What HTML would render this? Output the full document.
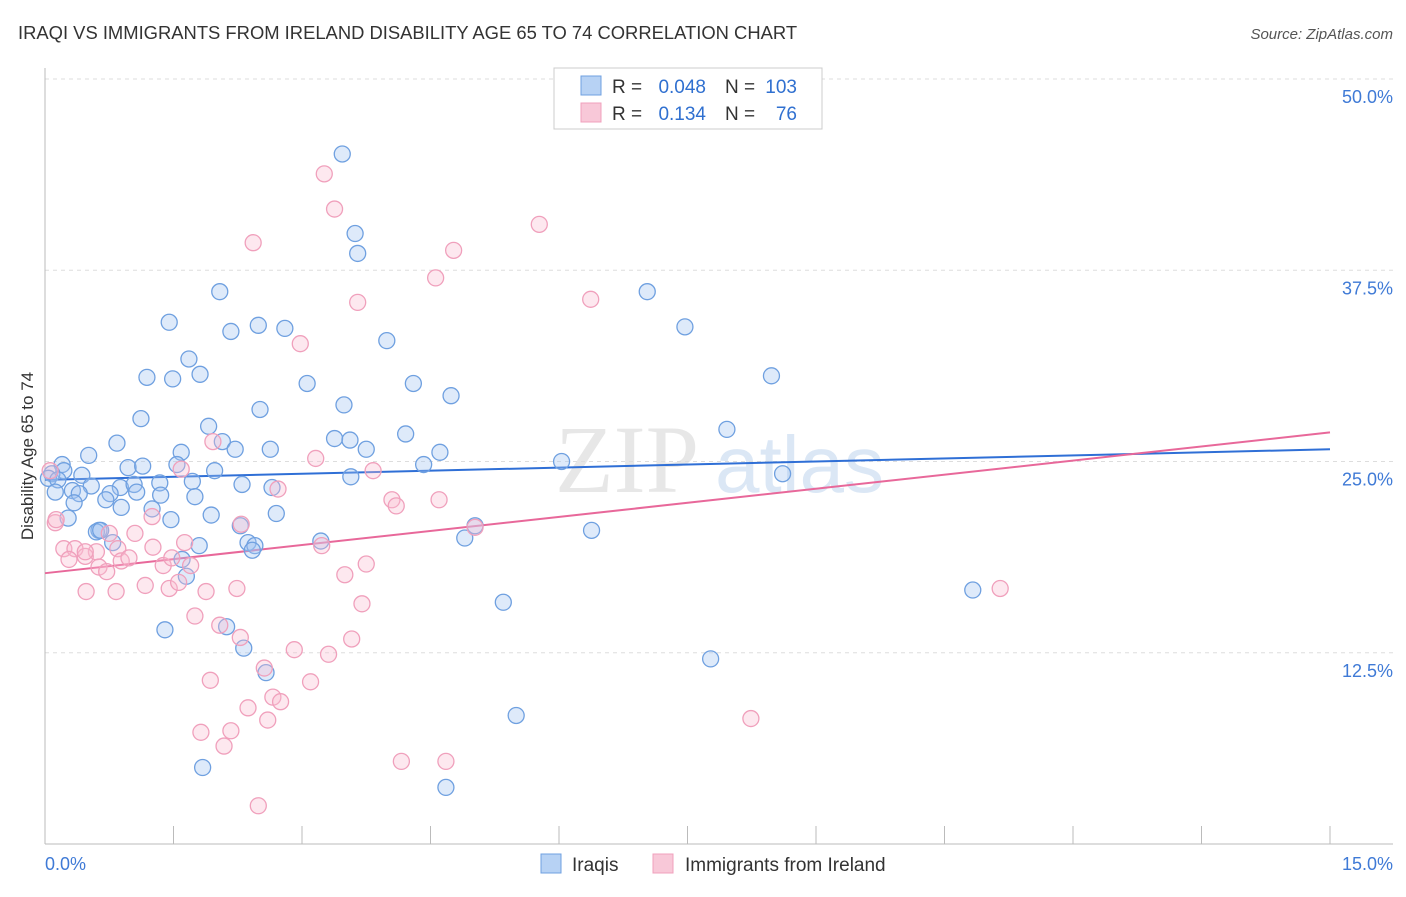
<!DOCTYPE html>
<html><head><meta charset="utf-8"><style>
body{margin:0;background:#fff;font-family:"Liberation Sans",sans-serif;}
</style></head><body>
<svg id="chart" width="1406" height="892" xmlns="http://www.w3.org/2000/svg">
<text x="18" y="39" font-size="18.4" fill="#333">IRAQI VS IMMIGRANTS FROM IRELAND DISABILITY AGE 65 TO 74 CORRELATION CHART</text>
<text x="1393" y="39" font-size="15" fill="#555" font-style="italic" text-anchor="end">Source: ZipAtlas.com</text>
<g>
<text x="555" y="492" font-size="96" font-family="Liberation Serif,serif" fill="#d8d8d8" opacity="0.6">ZIP</text>
<text x="715" y="492" font-size="80" fill="#b8d0ec" opacity="0.5">atlas</text>
</g>
<g id="grid"></g>
<g id="axes"></g>
<g id="lines"></g>
<g id="points"></g>
<g>
<rect x="554" y="68" width="268" height="61" fill="#fff" stroke="#ccc"/>
<rect x="581" y="76" width="20" height="19" fill="#b7d2f4" stroke="#6fa0e0"/>
<rect x="581" y="103" width="20" height="19" fill="#f8c8d8" stroke="#f0a0bc"/>
<g font-size="19" fill="#333">
<text x="612" y="93">R =</text>
<text x="706" y="93" text-anchor="end" fill="#3070d0">0.048</text>
<text x="725" y="93">N =</text>
<text x="797" y="93" text-anchor="end" fill="#3070d0">103</text>
<text x="612" y="120">R =</text>
<text x="706" y="120" text-anchor="end" fill="#3070d0">0.134</text>
<text x="725" y="120">N =</text>
<text x="797" y="120" text-anchor="end" fill="#3070d0">76</text>
</g>
</g>
<g>
<rect x="541" y="854" width="20" height="19" fill="#b7d2f4" stroke="#6fa0e0"/>
<text x="572" y="871" font-size="19" fill="#333">Iraqis</text>
<rect x="653" y="854" width="20" height="19" fill="#f8c8d8" stroke="#f0a0bc"/>
<text x="685" y="871" font-size="19" fill="#333">Immigrants from Ireland</text>
</g>
<text transform="translate(33,456) rotate(-90)" font-size="17" fill="#333" text-anchor="middle">Disability Age 65 to 74</text>
</svg>
<script>
const xTicks=[0,1.5,3,4.5,6,7.5,9,10.5,12,13.5,15];
const yTicks=[12.5,25,37.5,50];
const yTickLabels=["12.5%","25.0%","37.5%","50.0%"];
const blueX=[3.47,3.62,3.65,2.04,7.03,1.45,2.17,2.49,2.80,7.47,3.99,1.68,1.19,1.49,1.81,3.06,4.30,8.48,4.74,3.49,2.51,1.12,1.91,7.96,4.21,0.84,2.07,3.38,3.56,3.75,1.59,2.22,2.63,4.61,0.51,0.20,1.54,1.98,4.42,6.03,0.97,1.14,0.22,0.08,0.43,0.04,0.15,3.57,8.61,0.54,0.88,1.04,1.34,1.72,2.30,0.12,0.32,0.40,0.76,1.07,1.35,1.75,2.65,0.34,0.71,0.89,1.25,1.94,2.70,0.27,1.47,2.28,5.02,0.63,0.60,0.65,6.38,4.90,3.22,2.37,2.45,0.79,1.80,2.42,1.60,1.65,10.83,5.35,1.40,2.12,2.32,7.77,2.58,5.50,1.84,4.68];
const blueY=[45.1,39.9,38.6,36.1,36.1,34.1,33.5,33.9,33.7,33.8,32.9,31.7,30.5,30.4,30.7,30.1,30.1,30.6,29.3,28.7,28.4,27.8,27.3,27.1,26.8,26.2,26.3,26.5,26.4,25.8,25.6,25.8,25.8,25.6,25.4,24.8,24.8,24.4,24.8,25.0,24.6,24.7,24.4,24.2,24.1,23.9,23.8,24.0,24.2,23.4,23.3,23.5,23.6,23.7,23.5,23.0,23.1,22.9,22.9,23.0,22.8,22.7,23.3,22.3,22.5,22.0,21.9,21.5,21.6,21.3,21.2,20.8,20.8,20.5,20.4,20.5,20.5,20.0,19.8,19.7,19.5,19.7,19.5,19.2,18.6,17.5,16.6,15.8,14.0,14.2,12.8,12.1,11.2,8.4,5.0,3.7];
const pinkX=[3.26,3.38,5.77,2.43,4.77,4.56,3.65,6.37,2.98,1.96,1.59,3.16,3.83,4.05,4.10,4.60,2.72,2.29,0.06,0.12,0.13,1.25,1.05,0.75,0.22,0.35,0.60,0.85,1.26,1.63,3.23,5.02,0.28,0.47,0.63,0.72,0.89,0.98,1.38,1.48,1.70,3.50,3.75,1.17,1.45,1.56,0.48,0.83,1.88,2.24,3.70,1.75,2.04,2.28,3.58,2.91,3.31,2.56,1.93,3.10,2.66,2.75,2.37,2.17,1.82,2.60,2.09,8.24,4.16,4.68,2.49,11.15,0.47];
const pinkY=[43.8,41.5,40.5,39.3,38.8,37.0,35.4,35.6,32.7,26.3,24.5,25.2,24.4,22.5,22.1,22.5,23.2,20.9,24.4,21.0,21.2,21.4,20.3,20.3,19.3,19.3,19.1,19.3,19.4,19.7,19.5,20.7,18.6,18.8,18.1,17.8,18.5,18.7,18.2,18.7,18.2,17.6,18.3,16.9,16.7,17.1,16.5,16.5,16.5,16.7,15.7,14.9,14.3,13.5,13.4,12.7,12.4,11.5,10.7,10.6,9.6,9.3,8.9,7.4,7.3,8.1,6.4,8.2,5.4,5.4,2.5,16.7,19.1];
const blueTrend=[23.8,25.8];
const pinkTrend=[17.7,26.9];
const NS="http://www.w3.org/2000/svg";
const X=v=>45+v/15*1285;
const Y=v=>844-v/50*765;
function mk(tag,attrs,parent){const e=document.createElementNS(NS,tag);for(const k in attrs)e.setAttribute(k,attrs[k]);document.getElementById(parent).appendChild(e);return e;}
yTicks.forEach((t,i)=>{
 const g=mk('line',{x1:45,x2:1393,y1:Y(t),y2:Y(t),stroke:'#ddd','stroke-dasharray':'4,4'},'grid');
 
 
 const l=mk('text',{x:1393,y:Y(t)+24,'font-size':18,fill:'#3f7ad6','text-anchor':'end'},'axes');
 l.textContent=yTickLabels[i];
 
 
});
const ax=mk('line',{x1:45,x2:1393,y1:844,y2:844,stroke:'#bbb'},'axes');


const ay=mk('line',{x1:45,x2:45,y1:68,y2:844,stroke:'#bbb'},'axes');


xTicks.forEach(t=>{
 const k=mk('line',{x1:X(t),x2:X(t),y1:826,y2:844,stroke:'#bbb'},'axes');
 
 
});
const x0=mk('text',{x:45,y:870,'font-size':18,fill:'#3f7ad6'},'axes');x0.textContent=xTicks[0].toFixed(1)+'%';


const x1=mk('text',{x:1393,y:870,'font-size':18,fill:'#3f7ad6','text-anchor':'end'},'axes');x1.textContent=xTicks[xTicks.length-1].toFixed(1)+'%';


function pts(xs,ys,fill,stroke,name){xs.forEach((x,i)=>{
 const c=mk('circle',{cx:X(x),cy:Y(ys[i]),r:8,fill:fill,stroke:stroke,'stroke-width':1.3},'points');
 
 
});}
pts(blueX,blueY,'rgba(160,196,240,0.35)','#6fa0e0','iraqis-point');
pts(pinkX,pinkY,'rgba(248,190,210,0.35)','#f0a0bc','ireland-point');
const bl=mk('line',{x1:X(0),x2:X(15),y1:Y(blueTrend[0]),y2:Y(blueTrend[1]),stroke:'#2f6fd6','stroke-width':2},'lines');


const pl=mk('line',{x1:X(0),x2:X(15),y1:Y(pinkTrend[0]),y2:Y(pinkTrend[1]),stroke:'#e8689a','stroke-width':2},'lines');


</script>
</body></html>
